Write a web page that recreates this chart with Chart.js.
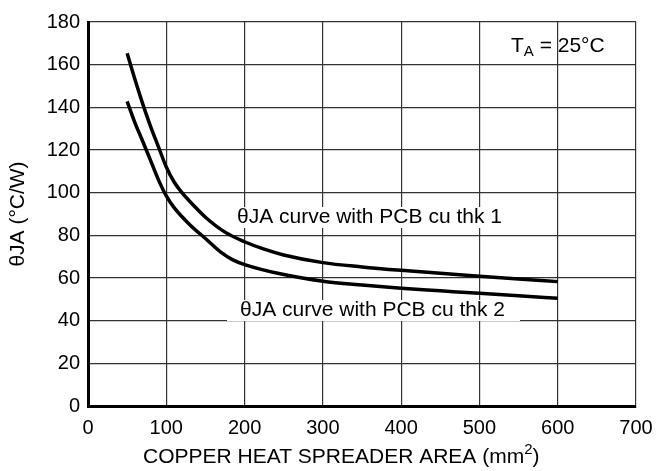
<!DOCTYPE html>
<html>
<head>
<meta charset="utf-8">
<script src="https://cdn.jsdelivr.net/npm/chart.js@4/dist/chart.umd.min.js"></script>
<style>
  html, body { margin: 0; padding: 0; background: #fff; }
  #wrap { width: 667px; height: 471px; }
</style>
</head>
<body>
<div id="wrap"><canvas id="chart"></canvas></div>
<script>
(function () {
  "use strict";
  // copper area (mm^2) and thermal resistance (°C/W)
  var areaThk1 = [50, 60, 70, 80, 90, 100, 110, 120, 135, 150, 175, 200, 225, 250, 300, 350, 400, 450, 500, 550, 600];
  var thetaThk1 = [165.4, 153, 141.5, 131, 121.5, 112, 105, 100, 94, 88.5, 81.5, 77, 73.5, 70.8, 67.2, 65.2, 63.6, 62.2, 60.8, 59.5, 58.3];
  var areaThk2 = [50, 60, 70, 80, 90, 100, 110, 130, 150, 170, 185, 200, 250, 300, 350, 400, 450, 500, 550, 600];
  var thetaThk2 = [142.8, 132.7, 124, 115, 106, 98.5, 93, 85, 78.5, 72, 68.5, 66.3, 61.6, 58.5, 56.7, 55.2, 54, 52.8, 51.7, 50.5];
  var xTicks = [0, 100, 200, 300, 400, 500, 600, 700];
  var yTicks = [0, 20, 40, 60, 80, 100, 120, 140, 160, 180];
  var labelThk1 = "\u03B8JA curve with PCB cu thk 1";
  var labelThk2 = "\u03B8JA curve with PCB cu thk 2";
  var xTitle = "COPPER HEAT SPREADER AREA (mm";

  var FONT = "'Liberation Sans', Arial, sans-serif";
  var pts = function (xs, ys) {
    return xs.map(function (x, i) { return { x: x, y: ys[i] }; });
  };

  var notes = {
    id: "notes",
    afterDatasetsDraw: function (chart) {
      var c = chart.ctx;
      var xs = chart.scales.x, ys = chart.scales.y;
      c.save();
      c.font = "21px " + FONT;
      c.textBaseline = "middle";
      c.textAlign = "left";
      function boxed(text, x, y, padL, padR) {
        var w = c.measureText(text).width;
        c.fillStyle = "#fff";
        c.fillRect(x - padL, y - 10, w + padL + padR, 21);
        c.fillStyle = "#000";
        c.fillText(text, x, y);
      }
      boxed(labelThk1, xs.getPixelForValue(190.3), ys.getPixelForValue(88.6), 3, 3);
      boxed(labelThk2, xs.getPixelForValue(194.2), ys.getPixelForValue(45), 13, 15);
      // T_A = 25°C
      var tx = xs.getPixelForValue(540.3), ty = ys.getPixelForValue(168.7);
      c.fillStyle = "#000";
      c.fillText("T", tx, ty);
      var tw = c.measureText("T").width;
      c.font = "15px " + FONT;
      c.fillText("A", tx + tw, ty + 6);
      var aw = c.measureText("A").width;
      c.font = "21px " + FONT;
      c.fillText(" = 25\u00B0C", tx + tw + aw, ty);
      c.restore();
    },
    afterDraw: function (chart) {
      // x axis title with superscript 2
      var c = chart.ctx;
      c.save();
      c.fillStyle = "#000";
      c.textBaseline = "middle";
      c.textAlign = "left";
      c.font = "21px " + FONT;
      var x0 = 143, y0 = 457;
      c.fillText(xTitle, x0, y0);
      var w = c.measureText(xTitle).width;
      c.font = "15px " + FONT;
      c.fillText("2", x0 + w, y0 - 7);
      var w2 = c.measureText("2").width;
      c.font = "21px " + FONT;
      c.fillText(")", x0 + w + w2, y0);
      c.restore();
    }
  };

  new Chart(document.getElementById("chart"), {
    type: "scatter",
    data: {
      datasets: [
        {
          label: labelThk1,
          data: pts(areaThk1, thetaThk1),
          showLine: true,
          borderColor: "#000",
          borderWidth: 3.5,
          cubicInterpolationMode: "monotone",
          pointRadius: 0,
          borderCapStyle: "butt"
        },
        {
          label: labelThk2,
          data: pts(areaThk2, thetaThk2),
          showLine: true,
          borderColor: "#000",
          borderWidth: 3.5,
          cubicInterpolationMode: "monotone",
          pointRadius: 0,
          borderCapStyle: "butt"
        }
      ]
    },
    options: {
      responsive: true,
      maintainAspectRatio: false,
      animation: false,
      layout: { padding: { left: 0, top: 22, right: 31, bottom: 0 } },
      scales: {
        x: {
          type: "linear",
          min: 0,
          max: 700,
          afterBuildTicks: function (s) { s.ticks = xTicks.map(function (v) { return { value: v }; }); },
          afterFit: function (s) { s.height = 65; },
          grid: { color: "#333", lineWidth: 1.2, drawTicks: false },
          border: { color: "#000", width: 3 },
          ticks: { color: "#000", padding: 10, font: { family: FONT, size: 20 }, maxRotation: 0 }
        },
        y: {
          type: "linear",
          min: 0,
          max: 180,
          afterBuildTicks: function (s) { s.ticks = yTicks.map(function (v) { return { value: v }; }); },
          afterFit: function (s) { s.width = 88; },
          grid: { color: "#333", lineWidth: 1.2, drawTicks: false },
          border: { color: "#000", width: 3 },
          ticks: { color: "#000", padding: 8, font: { family: FONT, size: 20 } },
          title: {
            display: true,
            text: "\u03B8JA (\u00B0C/W)",
            color: "#000",
            font: { family: FONT, size: 21 },
            padding: { top: 6, bottom: 0 }
          }
        }
      },
      plugins: {
        legend: { display: false },
        tooltip: { enabled: false }
      }
    },
    plugins: [notes]
  });
})();
</script>
</body>
</html>
